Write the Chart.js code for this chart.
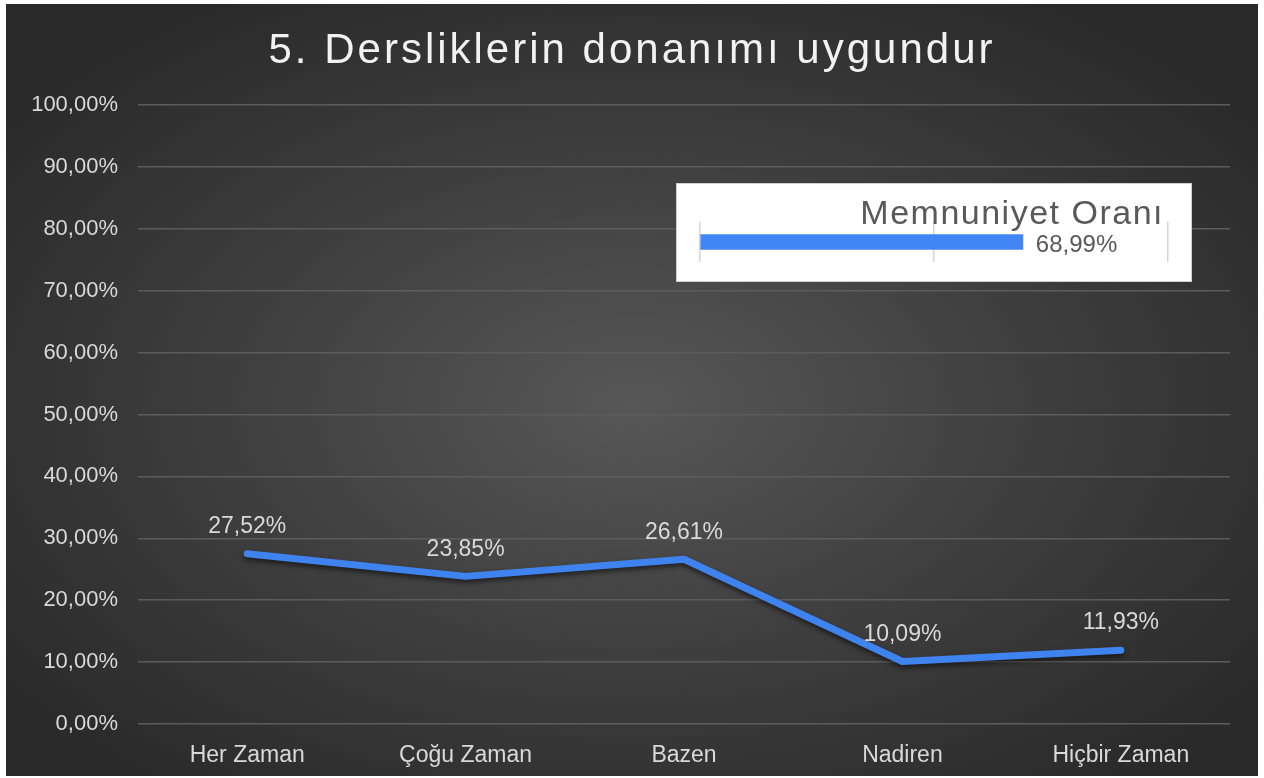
<!DOCTYPE html>
<html lang="tr">
<head>
<meta charset="utf-8">
<title>5. Dersliklerin donanımı uygundur</title>
<script src="https://cdn.jsdelivr.net/npm/chart.js@4.4.1/dist/chart.umd.min.js"></script>
<style>
    html, body { margin: 0; padding: 0; background: #fff; }
    #frame {
        position: absolute; left: 6px; top: 4px; width: 1252px; height: 772px;
        background: radial-gradient(ellipse 62% 62% at 50% 52%, #575757 0%, #3d3d3d 55%, #2a2a2a 100%);
    }
    #main { position: absolute; left: 0; top: 0; }
    #insetBox {
        position: absolute; left: 670px; top: 179px; width: 514px; height: 97px;
        background: #fff; border: 1px solid #cfcfcf;
    }
    #inset { position: absolute; left: 0; top: 0; }
</style>
</head>
<body>
<div id="frame">
    <canvas id="main" width="1252" height="772"></canvas>
    <div id="insetBox"><canvas id="inset" width="514" height="97"></canvas></div>
</div>
<script>
// chart data
const chartTitle = '5. Dersliklerin donanımı uygundur';
const categories = ['Her Zaman', 'Çoğu Zaman', 'Bazen', 'Nadiren', 'Hiçbir Zaman'];
const values = [27.52, 23.85, 26.61, 10.09, 11.93];
const yTicks = [0, 10, 20, 30, 40, 50, 60, 70, 80, 90, 100];

const insetTitle = 'Memnuniyet Oranı';
const insetLabels = ['Memnuniyet Oranı'];
const insetValues = [68.99];

const FONT = '"Liberation Sans", Arial, sans-serif';

// 27.52 -> "27,52%"
function fmt(v) {
    return v.toFixed(2).replace('.', ',') + '%';
}

// Title drawn by hand so letter spacing can match the original
const titlePlugin = {
    id: 'spacedTitle',
    afterDraw(chart, args, opts) {
        const ctx = chart.ctx;
        ctx.save();
        ctx.font = opts.font;
        ctx.fillStyle = opts.color;
        ctx.letterSpacing = opts.spacing;
        ctx.textAlign = opts.align;
        ctx.textBaseline = 'alphabetic';
        ctx.fillText(opts.text, opts.x, opts.y);
        ctx.restore();
    }
};

// Value labels above the points
const pointLabels = {
    id: 'pointLabels',
    afterDatasetsDraw(chart) {
        const ctx = chart.ctx;
        const meta = chart.getDatasetMeta(0);
        ctx.save();
        ctx.font = '23px ' + FONT;
        ctx.fillStyle = '#d9d9d9';
        ctx.textAlign = 'center';
        ctx.textBaseline = 'middle';
        meta.data.forEach((pt, i) => {
            ctx.fillText(fmt(chart.data.datasets[0].data[i]), pt.x, pt.y - 27);
        });
        ctx.restore();
    }
};

// Soft shadow under the line
const lineShadow = {
    id: 'lineShadow',
    beforeDatasetDraw(chart) {
        const ctx = chart.ctx;
        ctx.save();
        ctx.shadowColor = 'rgba(0, 0, 0, 0.55)';
        ctx.shadowBlur = 5;
        ctx.shadowOffsetY = 3;
    },
    afterDatasetDraw(chart) {
        chart.ctx.restore();
    }
};

new Chart(document.getElementById('main').getContext('2d'), {
    type: 'line',
    data: {
        labels: categories,
        datasets: [{
            label: 'Oran',
            data: values,
            borderColor: '#3f83ef',
            borderWidth: 7,
            borderCapStyle: 'round',
            borderJoinStyle: 'round',
            pointRadius: 0,
            tension: 0,
            fill: false
        }]
    },
    options: {
        responsive: false,
        animation: false,
        layout: { padding: { top: 101, right: 28, bottom: 0, left: 0 } },
        plugins: {
            legend: { display: false },
            tooltip: { enabled: false },
            spacedTitle: {
                text: chartTitle,
                font: '42px ' + FONT,
                color: '#f2f2f2',
                spacing: '3px',
                align: 'center',
                x: 626,
                y: 59
            }
        },
        scales: {
            x: {
                offset: true,
                grid: { display: false },
                border: { display: false },
                ticks: { color: '#d9d9d9', font: { family: FONT, size: 23 }, padding: 10 },
                afterFit: (s) => { s.height = 52; }
            },
            y: {
                min: 0,
                max: 100,
                afterBuildTicks: (s) => { s.ticks = yTicks.map(v => ({ value: v })); },
                ticks: {
                    color: '#d9d9d9',
                    font: { family: FONT, size: 22 },
                    padding: 20,
                    callback: (v) => fmt(v)
                },
                grid: { color: '#5c5c5c', lineWidth: 1.5, drawTicks: false },
                border: { display: false },
                afterFit: (s) => { s.width = 132; }
            }
        }
    },
    plugins: [lineShadow, pointLabels, titlePlugin]
});

// value label next to the bar in the inset
const barLabel = {
    id: 'barLabel',
    afterDatasetsDraw(chart) {
        const ctx = chart.ctx;
        const meta = chart.getDatasetMeta(0);
        ctx.save();
        ctx.font = '24px ' + FONT;
        ctx.fillStyle = '#595959';
        ctx.textAlign = 'left';
        ctx.textBaseline = 'middle';
        meta.data.forEach((bar, i) => {
            ctx.fillText(fmt(chart.data.datasets[0].data[i]), bar.x + 13, bar.y + 3);
        });
        ctx.restore();
    }
};

new Chart(document.getElementById('inset').getContext('2d'), {
    type: 'bar',
    data: {
        labels: insetLabels,
        datasets: [{
            data: insetValues,
            backgroundColor: '#4285f4',
            barThickness: 15
        }]
    },
    options: {
        indexAxis: 'y',
        responsive: false,
        animation: false,
        layout: { padding: { top: 38, right: 23, bottom: 19, left: 23 } },
        plugins: {
            legend: { display: false },
            tooltip: { enabled: false },
            spacedTitle: {
                text: insetTitle,
                font: '34px ' + FONT,
                color: '#595959',
                spacing: '1.5px',
                align: 'right',
                x: 487,
                y: 40
            }
        },
        scales: {
            x: {
                min: 0,
                max: 100,
                ticks: { display: false, stepSize: 50 },
                grid: { color: '#d4d4d4', lineWidth: 1.5, drawTicks: false },
                border: { display: false },
                afterFit: (s) => { s.height = 0; }
            },
            y: { display: false }
        }
    },
    plugins: [barLabel, titlePlugin]
});
</script>
</body>
</html>
